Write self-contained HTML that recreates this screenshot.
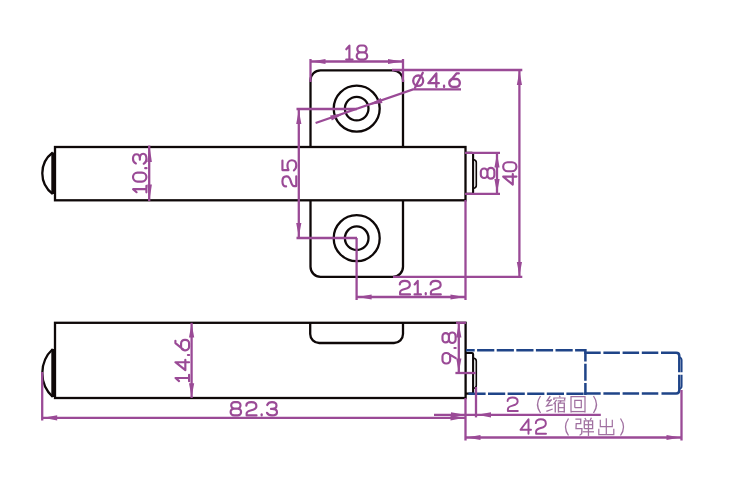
<!DOCTYPE html>
<html><head><meta charset="utf-8"><style>html,body{margin:0;padding:0;background:#fff;width:750px;height:500px;overflow:hidden}svg{display:block}text{font-family:"Liberation Sans",sans-serif}</style></head>
<body><svg width="750" height="500" viewBox="0 0 750 500">
<rect width="750" height="500" fill="#fff"/>
<rect x="55" y="147" width="410.5" height="53.3" fill="none" stroke="#0e0808" stroke-width="2.3"/><path d="M52.8,152.5 A25.75,25.75 0 0 0 52.8,194" fill="none" stroke="#0e0808" stroke-width="2.3"/><line x1="52.8" y1="152.5" x2="52.8" y2="194" stroke="#0e0808" stroke-width="3" /><path d="M466,152.8 L472,152.8 Q473.1,152.8 473.1,154 L473.1,192.6 Q473.1,193.8 472,193.8 L466,193.8" fill="none" stroke="#0e0808" stroke-width="2.1"/><path d="M473.2,159.5 Q476.3,160 476.3,162.5 L476.3,185.5 Q476.3,188 473.2,188.5" fill="none" stroke="#0e0808" stroke-width="1.6"/><path d="M310.5,146 L310.5,80.3 A10,10 0 0 1 320.5,70.3 L393,70.3 A10,10 0 0 1 403,80.3 L403,146" fill="none" stroke="#0e0808" stroke-width="2.3"/><path d="M310.5,200.5 L310.5,266.8 A10,10 0 0 0 320.5,276.8 L393,276.8 A10,10 0 0 0 403,266.8 L403,200.5" fill="none" stroke="#0e0808" stroke-width="2.3"/><circle cx="356.7" cy="108.6" r="23" fill="none" stroke="#0e0808" stroke-width="2.3"/><circle cx="356.7" cy="108.6" r="11.8" fill="none" stroke="#0e0808" stroke-width="2.3"/><circle cx="356.7" cy="238.2" r="23" fill="none" stroke="#0e0808" stroke-width="2.3"/><circle cx="356.7" cy="238.2" r="11.8" fill="none" stroke="#0e0808" stroke-width="2.3"/><rect x="55" y="322.8" width="410.6" height="75.2" fill="none" stroke="#0e0808" stroke-width="2.3"/><path d="M52.8,349 A32.7,32.7 0 0 0 52.8,397" fill="none" stroke="#0e0808" stroke-width="2.3"/><line x1="52.8" y1="349" x2="52.8" y2="397" stroke="#0e0808" stroke-width="3" /><path d="M310.2,322.8 L310.2,334 A9,9 0 0 0 319.2,343 L394,343 A9,9 0 0 0 403,334 L403,322.8" fill="none" stroke="#0e0808" stroke-width="2.3"/><path d="M466,353 L472,353 Q473.1,353 473.1,354.2 L473.1,392.4 Q473.1,393.6 472,393.6 L466,393.6" fill="none" stroke="#0e0808" stroke-width="2.1"/><path d="M473.2,358 Q476.3,358.5 476.3,361 L476.3,385.5 Q476.3,388 473.2,388.5" fill="none" stroke="#0e0808" stroke-width="1.6"/><path d="M466,350.3 L585.4,350.3" stroke="#1f4488" stroke-width="2.5" fill="none" stroke-dasharray="17.2 2.4" stroke-dashoffset="8.5"/><path d="M466,393.8 L585.4,393.8" stroke="#1f4488" stroke-width="2.5" fill="none" stroke-dasharray="17.2 2.4" stroke-dashoffset="17.2"/><path d="M585.4,349 L585.4,395" stroke="#1f4488" stroke-width="2.5" fill="none" stroke-dasharray="17 2.2" stroke-dashoffset="4.5"/><path d="M584.2,352.8 L659,352.8" stroke="#1f4488" stroke-width="2.5" fill="none" stroke-dasharray="16.5 2.7"/><path d="M584.2,393.5 L659,393.5" stroke="#1f4488" stroke-width="2.5" fill="none" stroke-dasharray="16.5 2.7"/><path d="M661,352.8 L676.2,352.8 Q679.3,352.8 679.3,356 L679.3,372.2 M679.3,374.8 L679.3,390.3 Q679.3,393.5 676.2,393.5 L661.5,393.5" stroke="#1f4488" stroke-width="2.5" fill="none"/><path d="M679.3,357 Q681.7,357.8 681.7,360.3 L681.7,372.2 M681.7,374.8 L681.7,386 Q681.7,388.5 679.3,389" stroke="#1f4488" stroke-width="1.7" fill="none"/>
<line x1="310.5" y1="59" x2="310.5" y2="82" stroke="#9a4a96" stroke-width="2.3" /><line x1="403" y1="59" x2="403" y2="82" stroke="#9a4a96" stroke-width="2.3" /><line x1="310.5" y1="61.5" x2="403" y2="61.5" stroke="#9a4a96" stroke-width="2.3" /><path d="M311.50,61.50 L325.50,58.90 L325.50,64.10 Z" fill="#9a4a96"/><path d="M402.00,61.50 L388.00,64.10 L388.00,58.90 Z" fill="#9a4a96"/><polyline points="315.6,123 413,89.4 461,89.4" fill="none" stroke="#9a4a96" stroke-width="2.3"/><path d="M344.20,113.40 L331.81,120.42 L330.12,115.51 Z" fill="#9a4a96"/><path d="M368.40,105.00 L380.79,97.98 L382.48,102.89 Z" fill="#9a4a96"/><line x1="296.5" y1="109" x2="357" y2="109" stroke="#9a4a96" stroke-width="2.3" /><line x1="296.5" y1="238" x2="357" y2="238" stroke="#9a4a96" stroke-width="2.3" /><line x1="298.8" y1="109" x2="298.8" y2="238" stroke="#9a4a96" stroke-width="2.3" /><path d="M298.80,110.00 L301.40,124.00 L296.20,124.00 Z" fill="#9a4a96"/><path d="M298.80,237.00 L296.20,223.00 L301.40,223.00 Z" fill="#9a4a96"/><line x1="149.2" y1="145.5" x2="149.2" y2="201" stroke="#9a4a96" stroke-width="2.3" /><path d="M149.60,147.00 L151.90,162.00 L147.30,162.00 Z" fill="#9a4a96"/><path d="M149.60,199.50 L147.30,184.50 L151.90,184.50 Z" fill="#9a4a96"/><line x1="465" y1="152.8" x2="500" y2="152.8" stroke="#9a4a96" stroke-width="2.3" /><line x1="465" y1="193.8" x2="500" y2="193.8" stroke="#9a4a96" stroke-width="2.3" /><line x1="497" y1="152.5" x2="497" y2="194" stroke="#9a4a96" stroke-width="2.3" /><path d="M497.00,153.50 L499.60,167.50 L494.40,167.50 Z" fill="#9a4a96"/><path d="M497.00,193.00 L494.40,179.00 L499.60,179.00 Z" fill="#9a4a96"/><line x1="392" y1="70" x2="522.3" y2="70" stroke="#9a4a96" stroke-width="2.3" /><line x1="393" y1="276.8" x2="522.3" y2="276.8" stroke="#9a4a96" stroke-width="2.3" /><line x1="519.4" y1="70" x2="519.4" y2="276.8" stroke="#9a4a96" stroke-width="2.3" /><path d="M519.40,71.00 L522.00,85.00 L516.80,85.00 Z" fill="#9a4a96"/><path d="M519.40,276.00 L516.80,262.00 L522.00,262.00 Z" fill="#9a4a96"/><line x1="356.6" y1="238" x2="356.6" y2="300" stroke="#9a4a96" stroke-width="2.3" /><line x1="465.5" y1="200" x2="465.5" y2="300" stroke="#9a4a96" stroke-width="2.3" /><line x1="356.6" y1="297" x2="465.5" y2="297" stroke="#9a4a96" stroke-width="2.3" /><path d="M357.60,297.00 L371.60,294.40 L371.60,299.60 Z" fill="#9a4a96"/><path d="M464.50,297.00 L450.50,299.60 L450.50,294.40 Z" fill="#9a4a96"/><line x1="191.6" y1="322.8" x2="191.6" y2="398" stroke="#9a4a96" stroke-width="2.3" /><path d="M191.60,323.50 L194.20,337.50 L189.00,337.50 Z" fill="#9a4a96"/><path d="M191.60,397.30 L189.00,383.30 L194.20,383.30 Z" fill="#9a4a96"/><line x1="42.2" y1="372" x2="42.2" y2="420.5" stroke="#9a4a96" stroke-width="2.3" /><line x1="465.5" y1="398" x2="465.5" y2="440.5" stroke="#9a4a96" stroke-width="2.3" /><line x1="42.2" y1="417.8" x2="465.5" y2="417.8" stroke="#9a4a96" stroke-width="2.3" /><path d="M43.20,417.80 L57.20,415.20 L57.20,420.40 Z" fill="#9a4a96"/><path d="M464.50,417.80 L450.50,420.40 L450.50,415.20 Z" fill="#9a4a96"/><line x1="456" y1="322.8" x2="466" y2="322.8" stroke="#9a4a96" stroke-width="2.3" /><line x1="455.4" y1="373" x2="475.7" y2="373" stroke="#9a4a96" stroke-width="2.3" /><line x1="458.8" y1="323" x2="458.8" y2="373" stroke="#9a4a96" stroke-width="2.3" /><path d="M458.80,323.50 L461.40,337.50 L456.20,337.50 Z" fill="#9a4a96"/><path d="M458.80,372.50 L456.20,358.50 L461.40,358.50 Z" fill="#9a4a96"/><line x1="476" y1="387" x2="476" y2="417.4" stroke="#9a4a96" stroke-width="2.3" /><line x1="434" y1="414.8" x2="600.8" y2="414.8" stroke="#9a4a96" stroke-width="2.3" /><path d="M465.00,414.80 L451.00,417.40 L451.00,412.20 Z" fill="#9a4a96"/><path d="M477.00,414.80 L491.00,412.20 L491.00,417.40 Z" fill="#9a4a96"/><line x1="681.5" y1="390" x2="681.5" y2="440.5" stroke="#9a4a96" stroke-width="2.3" /><line x1="465.5" y1="437.5" x2="681.5" y2="437.5" stroke="#9a4a96" stroke-width="2.3" /><path d="M466.50,437.50 L480.50,434.90 L480.50,440.10 Z" fill="#9a4a96"/><path d="M680.50,437.50 L666.50,440.10 L666.50,434.90 Z" fill="#9a4a96"/>
<g transform="translate(345.2,44.5)" fill="none" stroke="#9a4a96" stroke-width="2.15" stroke-linecap="round" stroke-linejoin="round" style="vector-effect:non-scaling-stroke"><path vector-effect="non-scaling-stroke" transform="matrix(1,0,0,1.0387,0.000,0)" d="M1.1,4.6 L4.2,1.1 L4.2,14.5 M1,14.5 L7.4,14.5"/><path vector-effect="non-scaling-stroke" transform="matrix(1,0,0,1.0387,10.500,0)" d="M4.800000000000001,1 L7.7,1 A3.2,3.2 0 0 1 10.9,4.2 L10.9,4.3999999999999995 A3.2,3.2 0 0 1 7.7,7.6 L4.800000000000001,7.6 A3.2,3.2 0 0 1 1.6,4.3999999999999995 L1.6,4.2 A3.2,3.2 0 0 1 4.800000000000001,1 Z M4.4,7.6 L8.1,7.6 A3.4,3.4 0 0 1 11.5,11.0 L11.5,11.1 A3.4,3.4 0 0 1 8.1,14.5 L4.4,14.5 A3.4,3.4 0 0 1 1,11.1 L1,11.0 A3.4,3.4 0 0 1 4.4,7.6 Z"/></g>
<g transform="translate(412.2,72.4)" fill="none" stroke="#9a4a96" stroke-width="2.3" stroke-linecap="round" stroke-linejoin="round" style="vector-effect:non-scaling-stroke"><path vector-effect="non-scaling-stroke" transform="matrix(1,0,0,1.0000,0.000,0)" d="M1,8.3 A5,5.2 0 1 0 11,8.3 A5,5.2 0 1 0 1,8.3 Z M2.8,15.3 L10.6,0.3"/><path vector-effect="non-scaling-stroke" transform="matrix(1,0,0,1.0000,15.133,0)" d="M9,14.5 L9,1 L1,10.8 L11.5,10.8"/><path vector-effect="non-scaling-stroke" transform="matrix(1,0,0,1.0000,30.767,0)" d="M1.1,13.3 L1.1,14.6"/><path vector-effect="non-scaling-stroke" transform="matrix(1,0,0,1.0000,36.100,0)" d="M10.5,1 L8.2,1 L1.5,9.2 M4.6,6.6 L7.9,6.6 A3.6,3.6 0 0 1 11.5,10.2 L11.5,10.9 A3.6,3.6 0 0 1 7.9,14.5 L4.6,14.5 A3.6,3.6 0 0 1 1,10.9 L1,10.2 A3.6,3.6 0 0 1 4.6,6.6 Z"/></g>
<g transform="matrix(0,-1,1,0,281.4,187.4)" fill="none" stroke="#9a4a96" stroke-width="2.15" stroke-linecap="round" stroke-linejoin="round" style="vector-effect:non-scaling-stroke"><path vector-effect="non-scaling-stroke" transform="matrix(1,0,0,1.0258,0.000,0)" d="M1,4.6 C1,2.2 3,1 6,1 C9,1 11,2.2 11,4.6 L11,5.3 C11,7.2 9.3,8.3 6,9.2 C2.6,10.1 1.3,11 1.3,12.4 L1.3,14.5 L11.2,14.5"/><path vector-effect="non-scaling-stroke" transform="matrix(1,0,0,1.0258,16.100,0)" d="M10.8,1 L1.2,1 L1.2,6.9 C2.6,6.2 4.2,5.9 6,5.9 C9,5.9 11,7.7 11,10.2 C11,12.8 9,14.5 6,14.5 C3.8,14.5 2,13.7 1,12.2"/></g>
<g transform="matrix(0,-1,1,0,132.0,193.3)" fill="none" stroke="#9a4a96" stroke-width="2.15" stroke-linecap="round" stroke-linejoin="round" style="vector-effect:non-scaling-stroke"><path vector-effect="non-scaling-stroke" transform="matrix(1,0,0,0.9935,0.000,0)" d="M1.1,4.6 L4.2,1.1 L4.2,14.5 M1,14.5 L7.4,14.5"/><path vector-effect="non-scaling-stroke" transform="matrix(1,0,0,0.9935,10.733,0)" d="M1,5.5 A4.5,4.5 0 0 1 10,5.5 L10,10 A4.5,4.5 0 0 1 1,10 Z"/><path vector-effect="non-scaling-stroke" transform="matrix(1,0,0,0.9935,24.067,0)" d="M1.1,13.3 L1.1,14.6"/><path vector-effect="non-scaling-stroke" transform="matrix(1,0,0,0.9935,28.600,0)" d="M1.2,3.9 C2,2 3.8,1 6,1 C8.8,1 10.5,2.5 10.5,4.5 C10.5,6.6 8.8,7.9 6,7.9 L5,7.9 M6,7.9 C9.1,7.9 11,9.3 11,11.2 C11,13.2 9,14.5 6,14.5 C3.6,14.5 1.8,13.6 1,11.8"/></g>
<g transform="matrix(0,-1,1,0,479.8,179.70000000000002)" fill="none" stroke="#9a4a96" stroke-width="2.15" stroke-linecap="round" stroke-linejoin="round" style="vector-effect:non-scaling-stroke"><path vector-effect="non-scaling-stroke" transform="matrix(1.0320,0,0,1.0065,0,0)" d="M4.800000000000001,1 L7.7,1 A3.2,3.2 0 0 1 10.9,4.2 L10.9,4.3999999999999995 A3.2,3.2 0 0 1 7.7,7.6 L4.800000000000001,7.6 A3.2,3.2 0 0 1 1.6,4.3999999999999995 L1.6,4.2 A3.2,3.2 0 0 1 4.800000000000001,1 Z M4.4,7.6 L8.1,7.6 A3.4,3.4 0 0 1 11.5,11.0 L11.5,11.1 A3.4,3.4 0 0 1 8.1,14.5 L4.4,14.5 A3.4,3.4 0 0 1 1,11.1 L1,11.0 A3.4,3.4 0 0 1 4.4,7.6 Z"/></g>
<g transform="matrix(0,-1,1,0,502.2,185.60000000000002)" fill="none" stroke="#9a4a96" stroke-width="2.15" stroke-linecap="round" stroke-linejoin="round" style="vector-effect:non-scaling-stroke"><path vector-effect="non-scaling-stroke" transform="matrix(1,0,0,0.9806,0.000,0)" d="M9,14.5 L9,1 L1,10.8 L11.5,10.8"/><path vector-effect="non-scaling-stroke" transform="matrix(1,0,0,0.9806,13.400,0)" d="M1,5.5 A4.5,4.5 0 0 1 10,5.5 L10,10 A4.5,4.5 0 0 1 1,10 Z"/></g>
<g transform="translate(398.8,279.8)" fill="none" stroke="#9a4a96" stroke-width="2.15" stroke-linecap="round" stroke-linejoin="round" style="vector-effect:non-scaling-stroke"><path vector-effect="non-scaling-stroke" transform="matrix(1,0,0,1.0065,0.000,0)" d="M1,4.6 C1,2.2 3,1 6,1 C9,1 11,2.2 11,4.6 L11,5.3 C11,7.2 9.3,8.3 6,9.2 C2.6,10.1 1.3,11 1.3,12.4 L1.3,14.5 L11.2,14.5"/><path vector-effect="non-scaling-stroke" transform="matrix(1,0,0,1.0065,14.733,0)" d="M1.1,4.6 L4.2,1.1 L4.2,14.5 M1,14.5 L7.4,14.5"/><path vector-effect="non-scaling-stroke" transform="matrix(1,0,0,1.0065,25.867,0)" d="M1.1,13.3 L1.1,14.6"/><path vector-effect="non-scaling-stroke" transform="matrix(1,0,0,1.0065,30.800,0)" d="M1,4.6 C1,2.2 3,1 6,1 C9,1 11,2.2 11,4.6 L11,5.3 C11,7.2 9.3,8.3 6,9.2 C2.6,10.1 1.3,11 1.3,12.4 L1.3,14.5 L11.2,14.5"/></g>
<g transform="matrix(0,-1,1,0,174.39999999999998,382.2)" fill="none" stroke="#9a4a96" stroke-width="2.15" stroke-linecap="round" stroke-linejoin="round" style="vector-effect:non-scaling-stroke"><path vector-effect="non-scaling-stroke" transform="matrix(1,0,0,1.0129,0.000,0)" d="M1.1,4.6 L4.2,1.1 L4.2,14.5 M1,14.5 L7.4,14.5"/><path vector-effect="non-scaling-stroke" transform="matrix(1,0,0,1.0129,11.000,0)" d="M9,14.5 L9,1 L1,10.8 L11.5,10.8"/><path vector-effect="non-scaling-stroke" transform="matrix(1,0,0,1.0129,26.100,0)" d="M1.1,13.3 L1.1,14.6"/><path vector-effect="non-scaling-stroke" transform="matrix(1,0,0,1.0129,30.900,0)" d="M10.5,1 L8.2,1 L1.5,9.2 M4.6,6.6 L7.9,6.6 A3.6,3.6 0 0 1 11.5,10.2 L11.5,10.9 A3.6,3.6 0 0 1 7.9,14.5 L4.6,14.5 A3.6,3.6 0 0 1 1,10.9 L1,10.2 A3.6,3.6 0 0 1 4.6,6.6 Z"/></g>
<g transform="translate(229.6,401.2)" fill="none" stroke="#9a4a96" stroke-width="2.15" stroke-linecap="round" stroke-linejoin="round" style="vector-effect:non-scaling-stroke"><path vector-effect="non-scaling-stroke" transform="matrix(1,0,0,0.9806,0.000,0)" d="M4.800000000000001,1 L7.7,1 A3.2,3.2 0 0 1 10.9,4.2 L10.9,4.3999999999999995 A3.2,3.2 0 0 1 7.7,7.6 L4.800000000000001,7.6 A3.2,3.2 0 0 1 1.6,4.3999999999999995 L1.6,4.2 A3.2,3.2 0 0 1 4.800000000000001,1 Z M4.4,7.6 L8.1,7.6 A3.4,3.4 0 0 1 11.5,11.0 L11.5,11.1 A3.4,3.4 0 0 1 8.1,14.5 L4.4,14.5 A3.4,3.4 0 0 1 1,11.1 L1,11.0 A3.4,3.4 0 0 1 4.4,7.6 Z"/><path vector-effect="non-scaling-stroke" transform="matrix(1,0,0,0.9806,15.733,0)" d="M1,4.6 C1,2.2 3,1 6,1 C9,1 11,2.2 11,4.6 L11,5.3 C11,7.2 9.3,8.3 6,9.2 C2.6,10.1 1.3,11 1.3,12.4 L1.3,14.5 L11.2,14.5"/><path vector-effect="non-scaling-stroke" transform="matrix(1,0,0,0.9806,30.967,0)" d="M1.1,13.3 L1.1,14.6"/><path vector-effect="non-scaling-stroke" transform="matrix(1,0,0,0.9806,36.400,0)" d="M1.2,3.9 C2,2 3.8,1 6,1 C8.8,1 10.5,2.5 10.5,4.5 C10.5,6.6 8.8,7.9 6,7.9 L5,7.9 M6,7.9 C9.1,7.9 11,9.3 11,11.2 C11,13.2 9,14.5 6,14.5 C3.6,14.5 1.8,13.6 1,11.8"/></g>
<g transform="matrix(0,-1,1,0,441.5,364.5)" fill="none" stroke="#9a4a96" stroke-width="2.15" stroke-linecap="round" stroke-linejoin="round" style="vector-effect:non-scaling-stroke"><path vector-effect="non-scaling-stroke" transform="matrix(1,0,0,0.9742,0.000,0)" d="M4.6,1 L7.9,1 A3.6,3.6 0 0 1 11.5,4.6 L11.5,5.300000000000001 A3.6,3.6 0 0 1 7.9,8.9 L4.6,8.9 A3.6,3.6 0 0 1 1,5.300000000000001 L1,4.6 A3.6,3.6 0 0 1 4.6,1 Z M11.2,6.5 L6.3,14.6"/><path vector-effect="non-scaling-stroke" transform="matrix(1,0,0,0.9742,15.400,0)" d="M1.1,13.3 L1.1,14.6"/><path vector-effect="non-scaling-stroke" transform="matrix(1,0,0,0.9742,20.500,0)" d="M4.800000000000001,1 L7.7,1 A3.2,3.2 0 0 1 10.9,4.2 L10.9,4.3999999999999995 A3.2,3.2 0 0 1 7.7,7.6 L4.800000000000001,7.6 A3.2,3.2 0 0 1 1.6,4.3999999999999995 L1.6,4.2 A3.2,3.2 0 0 1 4.800000000000001,1 Z M4.4,7.6 L8.1,7.6 A3.4,3.4 0 0 1 11.5,11.0 L11.5,11.1 A3.4,3.4 0 0 1 8.1,14.5 L4.4,14.5 A3.4,3.4 0 0 1 1,11.1 L1,11.0 A3.4,3.4 0 0 1 4.4,7.6 Z"/></g>
<g transform="translate(506.59999999999997,396.4)" fill="none" stroke="#9a4a96" stroke-width="1.95" stroke-linecap="round" stroke-linejoin="round" style="vector-effect:non-scaling-stroke"><path vector-effect="non-scaling-stroke" transform="matrix(1.0000,0,0,1.0065,0,0)" d="M1,4.6 C1,2.2 3,1 6,1 C9,1 11,2.2 11,4.6 L11,5.3 C11,7.2 9.3,8.3 6,9.2 C2.6,10.1 1.3,11 1.3,12.4 L1.3,14.5 L11.2,14.5"/></g>
<g transform="translate(519.5,418.2)" fill="none" stroke="#9a4a96" stroke-width="1.95" stroke-linecap="round" stroke-linejoin="round" style="vector-effect:non-scaling-stroke"><path vector-effect="non-scaling-stroke" transform="matrix(1,0,0,1.0710,0.000,0)" d="M9,14.5 L9,1 L1,10.8 L11.5,10.8"/><path vector-effect="non-scaling-stroke" transform="matrix(1,0,0,1.0710,15.300,0)" d="M1,4.6 C1,2.2 3,1 6,1 C9,1 11,2.2 11,4.6 L11,5.3 C11,7.2 9.3,8.3 6,9.2 C2.6,10.1 1.3,11 1.3,12.4 L1.3,14.5 L11.2,14.5"/></g>
<g transform="matrix(1.2188,0,0,1.0500,546,395.6)" fill="none" stroke="#a070a0" stroke-width="1.102" stroke-linecap="butt"><path d="M3.5,0.5 L0.8,5 L4.5,4.6"/><path d="M4.5,3.5 L0.5,10 L5.5,8.8"/><path d="M0.3,15 L5.5,12.8"/><path d="M11,0 L11.6,1.8"/><path d="M6.5,4.3 L6.5,2.3 L15.5,2.3 L15.2,4.3"/><path d="M8.7,4 L6.3,8.3"/><path d="M7.6,6.8 L7.6,16"/><path d="M9.5,5 L15.8,5"/><path d="M12.3,5 L11.3,7"/><path d="M10.2,16 L10.2,7.2 L15,7.2 L15,16"/><path d="M10.2,11.5 L15,11.5"/><path d="M10.2,15.3 L15,15.3"/></g>
<g transform="matrix(1.0000,0,0,1.0375,570,395.8)" fill="none" stroke="#a070a0" stroke-width="1.227" stroke-linecap="butt"><path d="M1,16 L1,0.8 L15,0.8 L15,16"/><path d="M1,15.2 L15,15.2"/><path d="M4.8,11.5 L4.8,4.5 L11.3,4.5 L11.3,11.5 L4.8,11.5"/></g>
<g transform="matrix(1.1875,0,0,1.1250,574.8,417.4)" fill="none" stroke="#a070a0" stroke-width="1.081" stroke-linecap="butt"><path d="M0.5,1.5 L5,1.5 L5,5.5 L1.2,5.5 L1,10 L6,10 L5.8,14.5 L4,16"/><path d="M8.5,0.5 L9.5,2.3"/><path d="M14,0.3 L13,2.3"/><path d="M8,10 L8,3 L15,3 L15,10 L8,10"/><path d="M8,6.5 L15,6.5"/><path d="M11.5,3 L11.5,16.5"/><path d="M6.5,12.8 L16.2,12.8"/></g>
<g transform="matrix(1.0000,0,0,1.0625,598.3,417.6)" fill="none" stroke="#a070a0" stroke-width="1.212" stroke-linecap="butt"><path d="M8,0.5 L8,16"/><path d="M2,2 L2,8.5 L14,8.5 L14,2"/><path d="M0.5,10.5 L0.5,16 L15.5,16 L15.5,10.5"/></g>
<path d="M540.5,396 Q534.5,404.5 540.5,413" fill="none" stroke="#a070a0" stroke-width="1.3"/>
<path d="M593.5,396 Q599.5,404.5 593.5,413" fill="none" stroke="#a070a0" stroke-width="1.3"/>
<path d="M568.5,418.5 Q562.5,427.0 568.5,435.5" fill="none" stroke="#a070a0" stroke-width="1.3"/>
<path d="M620.5,418.5 Q626.5,427.0 620.5,435.5" fill="none" stroke="#a070a0" stroke-width="1.3"/>
</svg></body></html>
